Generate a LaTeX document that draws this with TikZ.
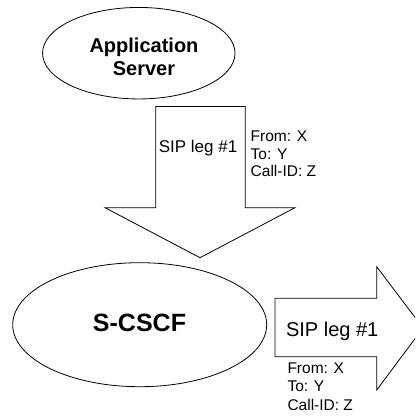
\documentclass[tikz,border=0pt]{standalone}
\usepackage{fontspec}
\setmainfont{Liberation Sans}
\usetikzlibrary{shapes.geometric}
\begin{document}
\begin{tikzpicture}[x=1pt,y=-1pt,
  outline/.style={draw=black,line width=0.8pt,line join=miter},
  entity/.style={outline,ellipse,inner sep=0pt},
  bigbold/.style={font=\bfseries\fontsize{20}{23}\selectfont},
  leglabel/.style={font=\fontsize{#1}{#1}\selectfont,inner sep=0pt},
  hdrs/.style={font=\fontsize{15.5}{#1}\selectfont,align=left,inner sep=0pt,anchor=base west}]
\useasboundingbox (0,0) rectangle (415,417);

% network entities
\node[entity,minimum width=192.5pt,minimum height=91.5pt] (as) at (138.8,53.2) {};
\node[bigbold,anchor=base,inner sep=0pt] (asname1) at (144,53) {Application};
\node[bigbold,anchor=base,inner sep=0pt] (asname2) at (144,76) {Server};

\node[entity,minimum width=254pt,minimum height=124pt] (scscf) at (139.7,324.7) {};
\node[font=\bfseries\fontsize{25}{30}\selectfont,anchor=base,inner sep=0pt] (scscfname) at (139.5,331.7) {S-CSCF};

% block arrow from the AS down to the S-CSCF
\coordinate (dtl) at (155.7,106.5);
\coordinate (dtr) at (245.3,106.5);
\coordinate (dsr) at (245.3,207.7);
\coordinate (dhr) at (295,207.7);
\coordinate (dtip) at (200,257.7);
\coordinate (dhl) at (105,207.7);
\coordinate (dsl) at (155.7,207.7);
\draw[outline] (dtl) -- (dtr) -- (dsr) -- (dhr) -- (dtip) -- (dhl) -- (dsl) -- cycle;
\node[leglabel=17,anchor=base] (leg1) at (198,152) {SIP leg \#1};
% the base anchor of a multi-line node sits on its last line
\node[hdrs=17.5] (hdr1) at (250.5,176.7) {From: X\\To: Y\\Call-ID: Z};

% block arrow leaving the S-CSCF to the right
\begin{scope}
\clip (0,0) rectangle (415,417);
\coordinate (rtl) at (275,298.3);
\coordinate (rst) at (376.7,298.3);
\coordinate (rht) at (376.7,266.7);
\coordinate (rtip) at (423,328);
\coordinate (rhb) at (376.7,390);
\coordinate (rsb) at (376.7,356.7);
\coordinate (rbl) at (275,356.7);
\draw[outline] (rtl) -- (rst) -- (rht) -- (rtip) -- (rhb) -- (rsb) -- (rbl) -- cycle;
\end{scope}
\node[leglabel=20,anchor=base] (leg2) at (332.2,336.7) {SIP leg \#1};
\node[hdrs=18.4] (hdr2) at (287.3,410) {From: X\\To: Y\\Call-ID: Z};
\end{tikzpicture}
\end{document}
